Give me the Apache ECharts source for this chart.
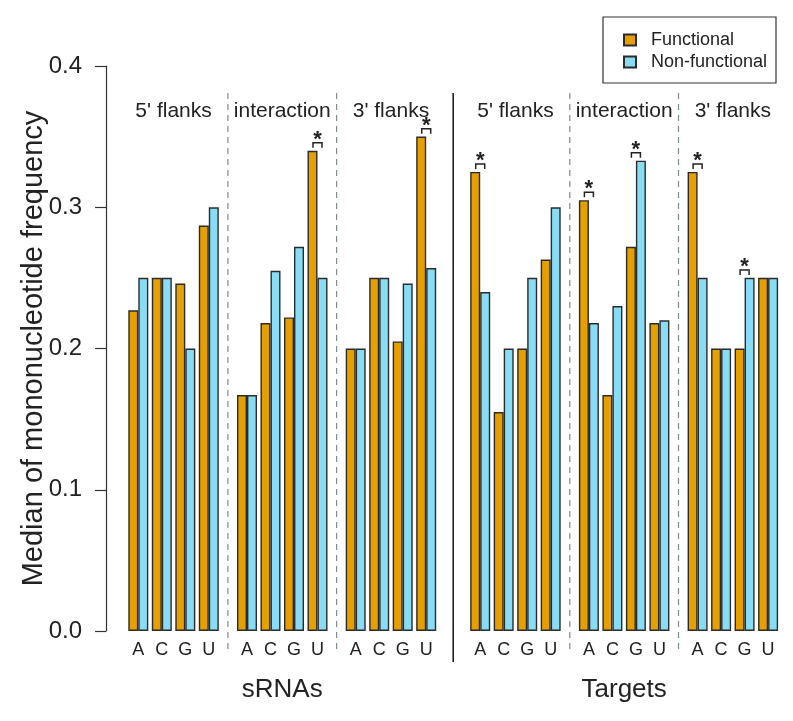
<!DOCTYPE html>
<html>
<head>
<meta charset="utf-8">
<script src="https://cdn.jsdelivr.net/npm/echarts@6/dist/echarts.min.js"></script>
<style>
  html, body { margin: 0; padding: 0; background: #fff; }
  #chart1 { width: 793px; height: 721px; }
</style>
</head>
<body>
<div id="chart1"></div>
<script>
// datos
const bases = ['A', 'C', 'G', 'U'];
const regions = ["5' flanks", 'interaction', "3' flanks", "5' flanks", 'interaction', "3' flanks"];
const molecules = ['sRNAs', 'Targets'];

const functional = [
    0.227, 0.250, 0.246, 0.287,   // sRNAs 5'
    0.167, 0.218, 0.222, 0.340,   // sRNAs interaction
    0.200, 0.250, 0.205, 0.350,   // sRNAs 3'
    0.325, 0.155, 0.200, 0.263,   // Targets 5'
    0.305, 0.167, 0.272, 0.218,   // Targets interaction
    0.325, 0.200, 0.200, 0.250    // Targets 3'
];
const nonFunctional = [
    0.250, 0.250, 0.200, 0.300,
    0.167, 0.255, 0.272, 0.250,
    0.200, 0.250, 0.246, 0.257,
    0.240, 0.200, 0.250, 0.300,
    0.218, 0.230, 0.333, 0.220,
    0.250, 0.200, 0.250, 0.250
];
const significant = [
    0, 0, 0, 0,
    0, 0, 0, 1,
    0, 0, 0, 1,
    1, 0, 0, 0,
    1, 0, 1, 0,
    1, 0, 1, 0
];

const FONT = '"Liberation Sans", Arial, Helvetica, sans-serif';
const colFunc = '#E69F00';
const colNon = '#88DDF5';
const ink = '#222';

// layout del barplot (unidades = px dentro del grid)
const X0 = 22.3, BAR = 10, PITCH = 23.5, SEG_EXTRA = 14.7, BLOCK_EXTRA = 30.5;

function pairLeft(k) {
    const seg = Math.floor(k / 4);
    const block = Math.floor(seg / 3);
    return X0 + k * PITCH + (seg - block) * SEG_EXTRA + block * BLOCK_EXTRA;
}

let funcData = [], nonData = [], baseData = [], sigData = [];
for (let k = 0; k < functional.length; k++) {
    const left = pairLeft(k);
    funcData.push([left + BAR / 2, functional[k]]);
    nonData.push([left + BAR * 1.5, nonFunctional[k]]);
    baseData.push([left + BAR, 0]);
    if (significant[k]) {
        sigData.push([left + BAR, Math.max(functional[k], nonFunctional[k])]);
    }
}

// separadores y etiquetas de regiones
let sepData = [], regionData = [], moleculeData = [];
for (let s = 0; s < regions.length; s++) {
    const start = pairLeft(s * 4);
    const end = pairLeft(s * 4 + 3) + BAR * 2;
    regionData.push([(start + end) / 2, 0]);
    if (s < regions.length - 1) {
        const solid = Math.floor(s / 3) !== Math.floor((s + 1) / 3) ? 1 : 0;
        sepData.push([(end + pairLeft(s * 4 + 4)) / 2, solid]);
    }
}
for (let b = 0; b < molecules.length; b++) {
    const start = pairLeft(b * 12);
    const end = pairLeft(b * 12 + 11) + BAR * 2;
    moleculeData.push([(start + end) / 2, 0]);
}

const chart1 = echarts.init(document.getElementById('chart1'));

let option = {
    animation: false,
    backgroundColor: '#fff',
    grid: { left: 106, right: 3, top: 66, bottom: 90 },
    legend: {
        data: ['Functional', 'Non-functional'],
        orient: 'vertical',
        left: 618,
        top: 26,
        icon: 'rect',
        itemWidth: 12,
        itemHeight: 11,
        itemGap: 4,
        textStyle: { fontSize: 18, fontFamily: FONT, color: ink, lineHeight: 18, padding: [0, 0, 0, 10] }
    },
    graphic: [
        {
            type: 'rect',
            shape: { x: 603, y: 17, width: 173, height: 66 },
            style: { fill: 'none', stroke: '#333', lineWidth: 1.2 }
        }
    ],
    xAxis: {
        type: 'value',
        min: 0,
        max: 684,
        show: false
    },
    yAxis: {
        type: 'value',
        min: 0,
        max: 0.4,
        interval: 0.1,
        name: 'Median of mononucleotide frequency',
        nameLocation: 'middle',
        nameGap: 58,
        nameMoveOverlap: false,
        nameRotate: 90,
        nameTextStyle: { fontSize: 29, fontFamily: FONT, color: ink },
        axisLine: { show: true, lineStyle: { color: '#333', width: 1.2 } },
        axisTick: { show: true, length: 11, lineStyle: { color: '#333', width: 1.2 } },
        axisLabel: {
            fontSize: 24, fontFamily: FONT, color: ink, margin: 24,
            formatter: function (v) { return v.toFixed(1); }
        },
        splitLine: { show: false }
    },
    series: [
        {
            name: 'Functional',
            type: 'bar',
            barWidth: BAR,
            barGap: '-100%',
            itemStyle: { color: colFunc, borderColor: '#2b2b2b', borderWidth: 1.4 },
            data: funcData
        },
        {
            name: 'Non-functional',
            type: 'bar',
            barWidth: BAR,
            barGap: '-100%',
            itemStyle: { color: colNon, borderColor: '#2b2b2b', borderWidth: 1.4 },
            data: nonData
        },
        {
            name: 'separadores',
            type: 'custom',
            silent: true,
            data: sepData,
            renderItem: function (params, api) {
                const p = api.coord([api.value(0), 0]);
                const solid = api.value(1) === 1;
                return {
                    type: 'line',
                    shape: { x1: p[0], y1: 93, x2: p[0], y2: solid ? 662 : 650 },
                    style: solid
                        ? { stroke: '#222', lineWidth: 1.6 }
                        : { stroke: '#7d8c8c', lineWidth: 1.2, lineDash: [6, 5] }
                };
            }
        },
        {
            name: 'regiones',
            type: 'custom',
            silent: true,
            data: regionData,
            renderItem: function (params, api) {
                const p = api.coord([api.value(0), 0]);
                return {
                    type: 'text',
                    x: p[0], y: 111,
                    style: {
                        text: regions[params.dataIndex], fontSize: 21, fontFamily: FONT,
                        fill: ink, align: 'center', verticalAlign: 'middle'
                    }
                };
            }
        },
        {
            name: 'bases',
            type: 'custom',
            silent: true,
            data: baseData,
            renderItem: function (params, api) {
                const p = api.coord([api.value(0), 0]);
                return {
                    type: 'text',
                    x: p[0], y: 650,
                    style: {
                        text: bases[params.dataIndex % 4], fontSize: 18, fontFamily: FONT,
                        fill: ink, align: 'center', verticalAlign: 'middle'
                    }
                };
            }
        },
        {
            name: 'moleculas',
            type: 'custom',
            silent: true,
            data: moleculeData,
            renderItem: function (params, api) {
                const p = api.coord([api.value(0), 0]);
                return {
                    type: 'text',
                    x: p[0], y: 690,
                    style: {
                        text: molecules[params.dataIndex], fontSize: 26, fontFamily: FONT,
                        fill: ink, align: 'center', verticalAlign: 'middle'
                    }
                };
            }
        },
        {
            name: 'significancia',
            type: 'custom',
            silent: true,
            data: sigData,
            renderItem: function (params, api) {
                const p = api.coord([api.value(0), api.value(1)]);
                const x = p[0], y = p[1];
                return {
                    type: 'group',
                    children: [
                        {
                            type: 'polyline',
                            shape: { points: [[x - 4.5, y - 3], [x - 4.5, y - 8], [x + 4.5, y - 8], [x + 4.5, y - 3]] },
                            style: { stroke: ink, lineWidth: 1.5, fill: 'none' }
                        },
                        {
                            type: 'text',
                            x: x, y: y - 11,
                            style: {
                                text: '*', fontSize: 22, fontWeight: 'bold', fontFamily: FONT, fill: ink,
                                align: 'center', verticalAlign: 'middle'
                            }
                        }
                    ]
                };
            }
        }
    ]
};

chart1.setOption(option);

window.addEventListener('resize', function () {
    chart1.resize();
});
</script>
</body>
</html>
